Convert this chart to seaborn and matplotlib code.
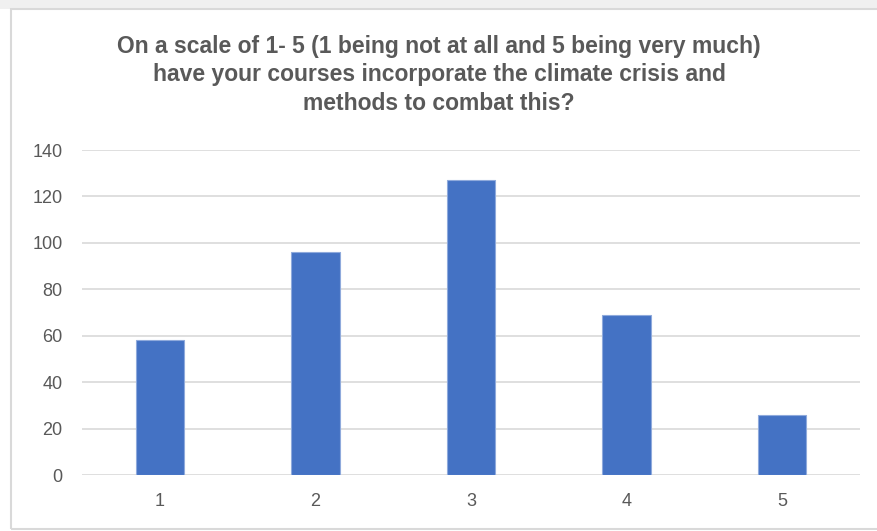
import matplotlib
matplotlib.use("Agg")
import matplotlib.pyplot as plt
import seaborn as sns
import pandas as pd
from matplotlib.patches import Rectangle

# Data
ratings = ["1", "2", "3", "4", "5"]
counts = [58, 96, 127, 69, 26]

title = ("On a scale of 1- 5 (1 being not at all and 5 being very much)\n"
         "have your courses incorporate the climate crisis and\n"
         "methods to combat this?")

df = pd.DataFrame({"rating": ratings, "count": counts})

sns.set_theme(style="white")
plt.rcParams["font.family"] = ["Liberation Sans", "DejaVu Sans"]

fig = plt.figure(figsize=(8.78, 5.31), dpi=100)
fig.patch.set_facecolor("white")

# light grey strip at the top and chart border
fig.patches.append(Rectangle((0, 1 - 9 / 531), 1, 9 / 531, transform=fig.transFigure,
                             facecolor="#f0f0f0", edgecolor="none", zorder=0))
fig.patches.append(Rectangle((11 / 878, 2 / 531), 1, 1 - 11 / 531, transform=fig.transFigure,
                             facecolor="none", edgecolor="#d9d9d9", linewidth=1.5, zorder=1))

ax = fig.add_axes([82 / 878, 1 - 475 / 531, (860 - 82) / 878, (475 - 150) / 531])

sns.barplot(data=df, x="rating", y="count", color="#4472c4", saturation=1,
            width=0.31, ax=ax, zorder=3, edgecolor="#8faadc", linewidth=0.8)

ax.set_ylim(0, 140)
ax.set_yticks(range(0, 141, 20))
ax.grid(axis="y", color="#d9d9d9", linewidth=1.2, zorder=0)
ax.set_axisbelow(True)
for s in ax.spines.values():
    s.set_visible(False)
ax.set_xlabel("")
ax.set_ylabel("")
ax.tick_params(axis="both", length=0, labelsize=13, labelcolor="#595959")
ax.tick_params(axis="y", pad=14)
ax.tick_params(axis="x", pad=13)

fig.text(0.5, 1 - 35 / 531, title, ha="center", va="top", fontsize=16.5,
         fontweight="bold", color="#595959", linespacing=1.3)

fig.savefig("out.png", dpi=100)
